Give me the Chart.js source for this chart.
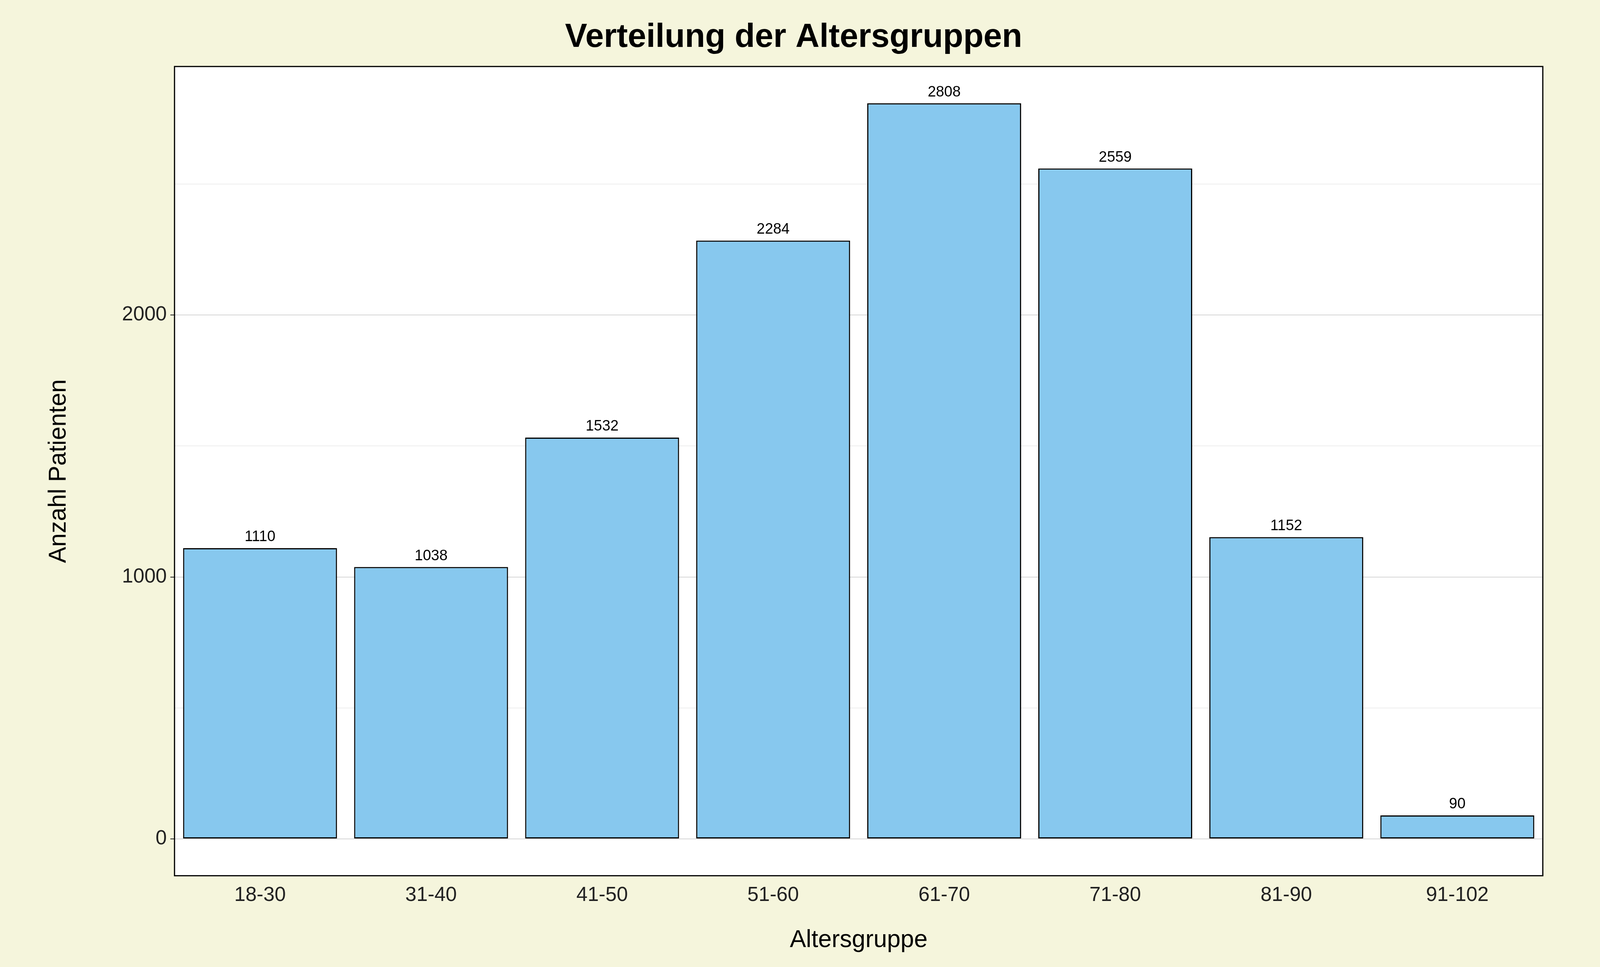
<!DOCTYPE html>
<html>
<head>
<meta charset="utf-8">
<script src="https://cdn.jsdelivr.net/npm/chart.js@4"></script>
<style>
  html, body { margin: 0; padding: 0; background: #F5F5DC; overflow: hidden; }
  #wrap { width: 100vw; height: 100vh; position: relative; }
</style>
</head>
<body>
<div id="wrap"><canvas id="c"></canvas></div>
<script>
// Chart data
const categories = ['18-30', '31-40', '41-50', '51-60', '61-70', '71-80', '81-90', '91-102'];
const counts = [1110, 1038, 1532, 2284, 2808, 2559, 1152, 90];
const yTickLabels = [0, 1000, 2000];

const FONT = "'Liberation Sans', Arial, sans-serif";
// sizes are designed for a 5400px wide page; scale to the real viewport
const S = window.innerWidth / 5400;
const px = v => v * S;

// white panel + black frame around the plot area
const panelPlugin = {
    id: 'panel',
    beforeDraw(chart) {
        const { ctx, chartArea: a } = chart;
        ctx.save();
        ctx.fillStyle = '#FFFFFF';
        ctx.fillRect(a.left, a.top, a.width, a.height);
        ctx.restore();
    },
    afterDraw(chart) {
        const { ctx, chartArea: a } = chart;
        ctx.save();
        ctx.strokeStyle = '#000';
        ctx.lineWidth = px(4);
        ctx.strokeRect(a.left, a.top, a.width, a.height);
        ctx.restore();
    }
};

// value labels above bars
const labelPlugin = {
    id: 'barLabels',
    afterDatasetsDraw(chart) {
        const { ctx } = chart;
        const meta = chart.getDatasetMeta(0);
        ctx.save();
        ctx.fillStyle = '#000';
        ctx.font = px(50) + 'px ' + FONT;
        ctx.textAlign = 'center';
        ctx.textBaseline = 'bottom';
        meta.data.forEach((bar, i) => {
            ctx.fillText(String(counts[i]), bar.x, bar.y - px(12));
        });
        ctx.restore();
    }
};

new Chart(document.getElementById('c').getContext('2d'), {
    type: 'bar',
    data: {
        labels: categories,
        datasets: [{
            data: counts,
            backgroundColor: 'rgba(135, 200, 238, 1)',
            borderColor: '#000',
            borderWidth: px(4),
            borderSkipped: false,
            categoryPercentage: 1.0,
            barPercentage: 0.9
        }]
    },
    options: {
        responsive: true,
        maintainAspectRatio: false,
        animation: false,
        layout: { padding: { left: px(150), right: px(193), top: 0, bottom: px(40) } },
        plugins: {
            legend: { display: false },
            tooltip: { enabled: false },
            title: {
                display: true,
                text: 'Verteilung der Altersgruppen',
                color: '#000',
                font: { family: FONT, size: px(112), weight: 'bold' },
                padding: { top: px(60), bottom: px(30) }
            }
        },
        scales: {
            x: {
                offset: true,
                grid: { display: false, tickLength: px(14) },
                border: { display: false },
                ticks: { color: '#222', font: { family: FONT, size: px(68) }, padding: px(12) },
                title: {
                    display: true, text: 'Altersgruppe', color: '#000',
                    font: { family: FONT, size: px(82) }, padding: { top: px(50), bottom: 0 }
                }
            },
            y: {
                min: -140.4,
                max: 2948.4,
                afterFit(scale) { scale.width = px(439); },
                afterBuildTicks(scale) {
                    scale.ticks = [0, 500, 1000, 1500, 2000, 2500].map(v => ({ value: v }));
                },
                grid: {
                    color: ctx => (ctx.tick && ctx.tick.value % 1000 === 0) ? '#D9D9D9' : '#EFEFEF',
                    lineWidth: px(3),
                    tickLength: px(14),
                    tickColor: ctx => (ctx.tick && ctx.tick.value % 1000 === 0) ? '#333' : 'rgba(0,0,0,0)'
                },
                border: { display: false },
                ticks: {
                    color: '#222',
                    font: { family: FONT, size: px(68) },
                    padding: px(12),
                    callback: v => yTickLabels.includes(v) ? String(v) : ''
                },
                title: {
                    display: true, text: 'Anzahl Patienten', color: '#000',
                    font: { family: FONT, size: px(82) }, padding: { top: 0, bottom: px(40) }
                }
            }
        }
    },
    plugins: [panelPlugin, labelPlugin]
});
</script>
</body>
</html>
